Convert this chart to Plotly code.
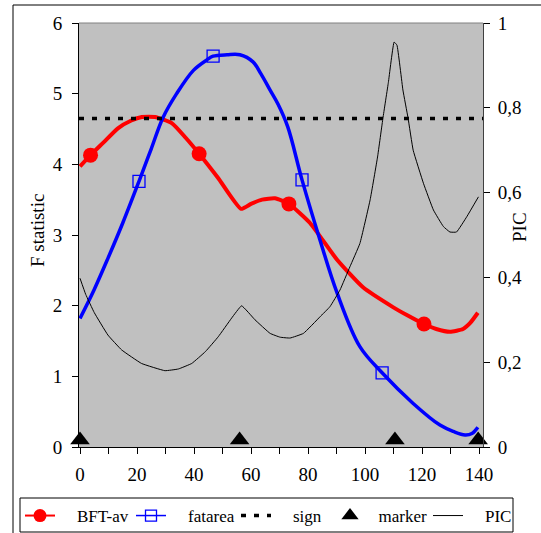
import plotly.graph_objects as go

# ---------------- data ----------------
bft_x = [0, 3.7, 8, 13.3, 18, 21.7, 26.3, 32.3, 37, 41.8, 48.4, 56.5, 60, 63.9, 68.4,
         73.3, 80.7, 90.2, 99.3, 109.8, 115, 120.7, 125, 129.8, 134.4, 137, 139.6]
bft_y = [3.97, 4.13, 4.30, 4.51, 4.62, 4.67, 4.67, 4.58, 4.38, 4.15, 3.81, 3.37, 3.44,
         3.50, 3.52, 3.44, 3.17, 2.65, 2.26, 1.98, 1.86, 1.74, 1.67, 1.63, 1.67, 1.76, 1.90]
bft_mx = [3.7, 41.8, 73.3, 120.7]
bft_my = [4.13, 4.15, 3.44, 1.74]

fat_x = [0, 5, 9.8, 15, 20.7, 25, 29.1, 33.9, 39.8, 44.6, 46.7, 51.6, 56.1, 60.7, 63.5,
         66.7, 69.5, 72.9, 77.9, 84.2, 90.2, 98.2, 106, 116.8, 126.3, 131, 135.1, 137.5, 139.6]
fat_y = [1.82, 2.23, 2.67, 3.17, 3.76, 4.22, 4.66, 5.00, 5.33, 5.48, 5.53, 5.55, 5.55, 5.45,
         5.28, 5.05, 4.85, 4.53, 3.78, 2.93, 2.18, 1.42, 1.05, 0.62, 0.31, 0.22, 0.17, 0.19, 0.28]
fat_mx = [20.7, 46.7, 77.9, 106]
fat_my = [3.76, 5.53, 3.78, 1.05]

sign_value = 4.65

marker_x = [0, 56, 110.5, 139.7]
marker_y = [0.1, 0.1, 0.1, 0.1]

pic_x = [0, 2, 5, 9.8, 14.6, 21.6, 29.8, 34.5, 39.2, 44, 48.5, 53.2, 56.7, 61.4, 66.7, 70.2,
         73.7, 78.4, 84.2, 87.7, 91.2, 94.7, 98.2, 101.8, 104.4, 106.3, 108.2, 110.2, 111.2,
         113.3, 115.1, 116.9, 120.5, 124, 127.5, 129.8, 132.1, 135.7, 139.8]
pic_y = [0.398, 0.36, 0.317, 0.264, 0.229, 0.197, 0.180, 0.184, 0.197, 0.225, 0.26, 0.304,
         0.333, 0.30, 0.268, 0.259, 0.257, 0.268, 0.307, 0.331, 0.370, 0.425, 0.48, 0.583,
         0.684, 0.776, 0.86, 0.955, 0.948, 0.842, 0.776, 0.70, 0.622, 0.559, 0.52, 0.507,
         0.507, 0.543, 0.59]

x_ticks = list(range(0, 141, 10))
x_ticktext = [str(v) if v % 20 == 0 else "" for v in x_ticks]
x_range = [-0.35, 141.4]
left_range = [0, 6]
right_range = [0, 1]
left_title = "F statistic"
right_title = "PIC"
series_names = ["BFT-av", "fatarea", "sign", "marker", "PIC"]

# ---------------- figure ----------------
FONT = "Liberation Serif"
NB = "\u00a0"
PLOT_L, PLOT_W, PLOT_B, PLOT_H = 79, 404, 447, 424


def px_x(p):
    return (p - PLOT_L) / PLOT_W


def px_y(p):
    return (PLOT_B - p) / PLOT_H


fig = go.Figure()

fig.add_trace(go.Scatter(x=bft_x, y=bft_y, mode="lines", showlegend=False,
                         line=dict(color="#FF0000", width=4, shape="spline", smoothing=0.5)))
fig.add_trace(go.Scatter(x=bft_mx, y=bft_my, mode="markers", showlegend=False,
                         marker=dict(color="#FF0000", size=15, symbol="circle")))
fig.add_trace(go.Scatter(x=fat_x, y=fat_y, mode="lines", showlegend=False,
                         line=dict(color="#0000FF", width=3.5, shape="spline", smoothing=1.0)))
fig.add_trace(go.Scatter(x=fat_mx, y=fat_my, mode="markers", showlegend=False,
                         marker=dict(color="#0000FF", size=12, symbol="square-open",
                                     line=dict(color="#0000FF", width=1.3))))
fig.add_trace(go.Scatter(x=x_range, y=[sign_value, sign_value], mode="lines", showlegend=False,
                         line=dict(color="black", width=3.5, dash="5px,8px")))
fig.add_trace(go.Scatter(x=marker_x, y=marker_y, mode="markers", showlegend=False, cliponaxis=False,
                         marker=dict(color="black", size=17, symbol="triangle-up")))
fig.add_trace(go.Scatter(x=pic_x, y=pic_y, mode="lines", showlegend=False, yaxis="y2",
                         line=dict(color="black", width=1, shape="spline", smoothing=0.3)))

# legend entries (one small legend per entry so each sits where the original puts it)
fig.add_trace(go.Scatter(x=[None], y=[None], mode="lines+markers", name=NB * 4 + series_names[0],
                         legend="legend",
                         line=dict(color="#FF0000", width=2), marker=dict(color="#FF0000", size=13)))
fig.add_trace(go.Scatter(x=[None], y=[None], mode="lines+markers", name=NB * 4 + series_names[1],
                         legend="legend2",
                         line=dict(color="#0000FF", width=1.5),
                         marker=dict(symbol="square-open", size=11, color="#0000FF",
                                     line=dict(color="#0000FF", width=1.3))))
fig.add_trace(go.Scatter(x=[None], y=[None], mode="lines", name=NB * 4 + series_names[2],
                         legend="legend3",
                         line=dict(color="black", width=3.5, dash="5px,8px")))
fig.add_trace(go.Scatter(x=[None], y=[None], mode="markers", name=NB * 2 + series_names[3],
                         legend="legend4",
                         marker=dict(color="black", size=15, symbol="triangle-up")))
fig.add_trace(go.Scatter(x=[None], y=[None], mode="lines", name=NB * 4 + series_names[4],
                         legend="legend5",
                         line=dict(color="black", width=1)))


def leg(px_left):
    return dict(orientation="h", x=px_x(px_left), y=px_y(498), xanchor="left", yanchor="top",
                bgcolor="rgba(0,0,0,0)", borderwidth=0,
                font=dict(family=FONT, size=17, color="black"), itemwidth=30)


axis_font = dict(family=FONT, size=19, color="black")
fig.update_layout(
    width=541, height=533,
    margin=dict(l=79, r=58, t=23, b=86, autoexpand=False),
    paper_bgcolor="white", plot_bgcolor="#C0C0C0",
    separators=",.",
    font=dict(family=FONT, size=18, color="black"),
    xaxis=dict(range=x_range, tickvals=x_ticks, ticktext=x_ticktext, ticks="outside",
               ticklen=6, tickcolor="black", showline=True, linecolor="black", linewidth=1,
               showgrid=False, zeroline=False, tickfont=axis_font, ticklabelstandoff=4,
               automargin=False),
    xaxis2=dict(range=x_range, overlaying="x", anchor="y", tickvals=x_ticks, ticks="inside",
                ticklen=5, tickcolor="black", showticklabels=False, showline=False,
                showgrid=False, zeroline=False, automargin=False),
    yaxis=dict(range=left_range, dtick=1, ticks="outside", ticklen=6, tickcolor="black",
               showline=True, linecolor="black", linewidth=1, showgrid=False, zeroline=False,
               tickfont=axis_font, ticklabelstandoff=6, automargin=False),
    yaxis3=dict(range=left_range, dtick=1, overlaying="y", anchor="x", side="left",
                ticks="inside", ticklen=6, tickcolor="black", showticklabels=False,
                showline=False, showgrid=False, zeroline=False, automargin=False),
    yaxis2=dict(range=right_range, dtick=0.2, overlaying="y", side="right", anchor="x",
                ticks="outside", ticklen=6, tickcolor="black", showline=True,
                linecolor="#404040", linewidth=1, showgrid=False, zeroline=False,
                tickfont=axis_font, ticklabelstandoff=4, automargin=False),
    yaxis4=dict(range=right_range, dtick=0.2, overlaying="y", side="right", anchor="x",
                ticks="inside", ticklen=6, tickcolor="black", showticklabels=False,
                showline=False, showgrid=False, zeroline=False, automargin=False),
    legend=leg(20), legend2=leg(131), legend3=leg(236), legend4=leg(330), legend5=leg(428),
    annotations=[
        dict(text=left_title, xref="paper", yref="paper", x=px_x(37), y=px_y(231),
             xanchor="center", yanchor="middle", textangle=-90, showarrow=False,
             font=dict(family=FONT, size=19)),
        dict(text=right_title, xref="paper", yref="paper", x=px_x(519), y=px_y(227),
             xanchor="center", yanchor="middle", textangle=-90, showarrow=False,
             font=dict(family=FONT, size=19)),
    ],
    shapes=[
        dict(type="line", xref="paper", yref="paper", x0=0, x1=1, y0=1, y1=1,
             line=dict(color="#808080", width=1)),
        dict(type="rect", xref="paper", yref="paper", x0=px_x(13), x1=px_x(560),
             y0=px_y(5), y1=px_y(560),
             line=dict(color="black", width=1), fillcolor="rgba(0,0,0,0)"),
        dict(type="rect", xref="paper", yref="paper", x0=px_x(20), x1=px_x(513),
             y0=px_y(498), y1=px_y(532),
             line=dict(color="black", width=1), fillcolor="rgba(0,0,0,0)"),
    ],
)

fig.write_html("out.html", config={"displayModeBar": False},
               post_script="document.body.style.margin='0';document.body.style.overflow='hidden';")
